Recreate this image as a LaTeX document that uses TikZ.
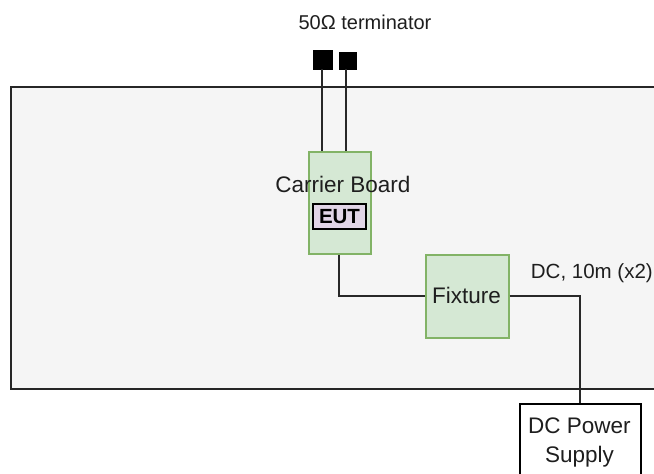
\documentclass[tikz,border=0pt]{standalone}
\usepackage{fontspec}
\setmainfont{Liberation Sans}
\begin{document}
\begin{tikzpicture}[x=1pt,y=-1pt,
  greenbox/.style={draw={rgb,255:red,130;green,179;blue,102}, fill={rgb,255:red,213;green,232;blue,212}, line width=1.5pt},
  wire/.style={draw={rgb,255:red,40;green,40;blue,40}, line width=2pt},
  lbl/.style={font=\fontsize{22.5}{27}\selectfont, text={rgb,255:red,30;green,30;blue,30}, inner sep=0pt}]
\useasboundingbox (0,0) rectangle (654,474);
\clip (0,0) rectangle (654,474);
% enclosure
\path[draw=black!85, line width=1.5pt, fill={rgb,255:red,245;green,245;blue,245}] (11,87) rectangle (670,389);
% terminators
\node[draw=black, fill=black, minimum width=19pt, minimum height=19pt, inner sep=0pt, anchor=north west] (t1) at (313,50) {};
\node[draw=black, fill=black, minimum width=17pt, minimum height=17pt, inner sep=0pt, anchor=north west] (t2) at (339,52) {};
% carrier board
\node[greenbox, minimum width=62pt, minimum height=102pt, inner sep=0pt, anchor=north west] (cb) at (308,151) {};
\node[lbl] (cbl) at (343,184) {Carrier Board};
\node[draw=black, line width=1.5pt, fill={rgb,255:red,225;green,213;blue,231}, minimum width=53pt, minimum height=25pt, inner sep=0pt, font=\fontsize{20.5}{24}\selectfont\bfseries] (eut) at (339.5,216.5) {EUT};
% fixture
\node[greenbox, minimum width=83pt, minimum height=83pt, inner sep=0pt, anchor=north west] (fx) at (425,254) {};
\node[lbl] (fxl) at (466.5,295.5) {Fixture};
% power supply
\node[draw=black, line width=1.5pt, fill=white, minimum width=121pt, minimum height=90pt, inner sep=0pt, anchor=north west] (ps) at (519,403) {};
\node[lbl, align=center] (psl) at (579.5,442) {DC Power\\[2pt]Supply};
% labels
\node[lbl, font=\fontsize{20}{24}\selectfont] (term) at (365,22) {50Ω terminator};
\node[lbl, font=\fontsize{20.5}{24}\selectfont, anchor=east] (dc) at (653,273) {DC, 10m (x2)};
% wires
\draw[wire] (t1.south -| 322,0) -- (cb.north -| 322,0);
\draw[wire] (t2.south -| 346,0) -- (cb.north -| 346,0);
\coordinate (c1) at (339,295.5);
\coordinate (c2) at (579.5,295.5);
\draw[wire] (cb.south -| c1) -- (c1) -- (fx.west |- c1);
\draw[wire] (fx.east |- c2) -- (c2) -- (ps.north -| c2);
\end{tikzpicture}
\end{document}
